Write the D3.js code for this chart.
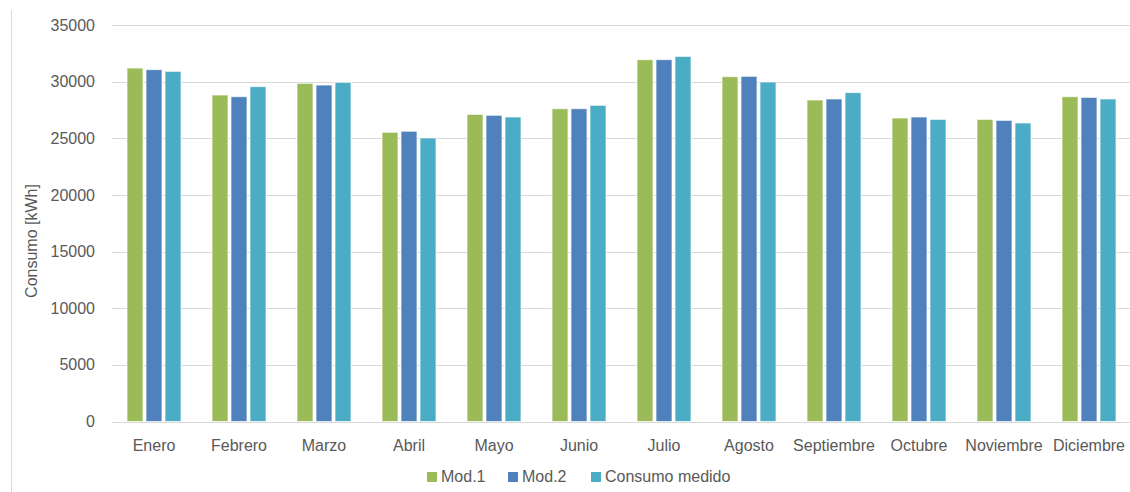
<!DOCTYPE html>
<html>
<head>
<meta charset="utf-8">
<script src="https://cdn.jsdelivr.net/npm/d3@7"></script>
<style>
  html, body { margin: 0; padding: 0; background: #fff; }
  svg { display: block; font-family: "Liberation Sans", Arial, sans-serif; }
</style>
</head>
<body>
<svg id="chart" width="1130" height="492"></svg>
<script>
// Monthly consumption: two models versus measured consumption
const months = ["Enero", "Febrero", "Marzo", "Abril", "Mayo", "Junio", "Julio",
                "Agosto", "Septiembre", "Octubre", "Noviembre", "Diciembre"];
const seriesNames = ["Mod.1", "Mod.2", "Consumo medido"];
const mod1   = [31200, 28820, 29850, 25530, 27110, 27610, 31940, 30440, 28380, 26790, 26670, 28670];
const mod2   = [31060, 28670, 29700, 25620, 27030, 27610, 31940, 30470, 28470, 26880, 26580, 28610];
const medido = [30910, 29560, 29940, 25030, 26880, 27910, 32230, 29970, 29030, 26670, 26350, 28470];
const yTicks = [0, 5000, 10000, 15000, 20000, 25000, 30000, 35000];
const colors = ["#9BBB59", "#4F81BD", "#4BACC6"];

const seriesValues = [mod1, mod2, medido];
const rows = months.map((m, i) => ({ month: m, values: seriesValues.map(s => s[i]) }));

const svg = d3.select("#chart");
const textColor = "#595959";
const gridColor = "#d9d9d9";

const plot = { left: 111.5, right: 1131.5, top: 25, bottom: 421.5 };

const x0 = d3.scaleBand().domain(months).range([plot.left, plot.right]).padding(0);
const groupWidth = 57;
const x1 = d3.scaleBand().domain(d3.range(seriesNames.length)).range([0, groupWidth]).paddingInner(0);
const y = d3.scaleLinear().domain([0, 35000]).range([plot.bottom, plot.top]);

// outer frame edge on the left
svg.append("line")
  .attr("x1", 11.5).attr("x2", 11.5).attr("y1", 10).attr("y2", 492)
  .attr("stroke", gridColor).attr("stroke-width", 1);

// horizontal gridlines
svg.append("g")
  .selectAll("line")
  .data(yTicks)
  .join("line")
  .attr("x1", plot.left).attr("x2", 1130)
  .attr("y1", d => Math.round(y(d)) + 0.5)
  .attr("y2", d => Math.round(y(d)) + 0.5)
  .attr("stroke", gridColor).attr("stroke-width", 1);

// y axis labels
const yAxis = d3.axisLeft(y).tickValues(yTicks).tickSize(0).tickPadding(0).tickFormat(d3.format("d"));
const gy = svg.append("g").attr("transform", "translate(95,0)").call(yAxis);
gy.select(".domain").remove();
gy.selectAll("text")
  .attr("fill", textColor)
  .attr("font-size", "16px")
  .attr("font-family", "Liberation Sans, Arial, sans-serif");

// bars
const groups = svg.append("g")
  .selectAll("g")
  .data(rows)
  .join("g")
  .attr("transform", d => `translate(${x0(d.month) + (x0.bandwidth() - groupWidth) / 2},0)`);

groups.selectAll("rect")
  .data(d => d.values.map((v, i) => ({ i, v })))
  .join("rect")
  .attr("x", d => x1(d.i) + 1.5)
  .attr("width", x1.bandwidth() - 3)
  .attr("y", d => y(d.v))
  .attr("height", d => y(0) - y(d.v))
  .attr("fill", d => colors[d.i])
  .attr("stroke", "#ffffff")
  .attr("stroke-opacity", 0.7)
  .attr("stroke-width", 1);

// x axis labels
const xAxis = d3.axisBottom(x0).tickSize(0).tickPadding(0);
const gx = svg.append("g").attr("transform", `translate(0,${plot.bottom + 18})`).call(xAxis);
gx.select(".domain").remove();
gx.selectAll("text")
  .attr("fill", textColor)
  .attr("font-size", "16px")
  .attr("font-family", "Liberation Sans, Arial, sans-serif");

// y axis title
svg.append("text")
  .attr("transform", "translate(37,241) rotate(-90)")
  .attr("text-anchor", "middle")
  .attr("fill", textColor)
  .attr("font-size", "16px")
  .text("Consumo [kWh]");

// legend
const legendX = [427, 508, 591];
const legend = svg.append("g")
  .selectAll("g")
  .data(seriesNames)
  .join("g")
  .attr("transform", (d, i) => `translate(${legendX[i]},472)`);
legend.append("rect")
  .attr("width", 10).attr("height", 10)
  .attr("fill", (d, i) => colors[i]);
legend.append("text")
  .attr("x", 14).attr("y", 10)
  .attr("fill", textColor)
  .attr("font-size", "16px")
  .text(d => d);
</script>
</body>
</html>
